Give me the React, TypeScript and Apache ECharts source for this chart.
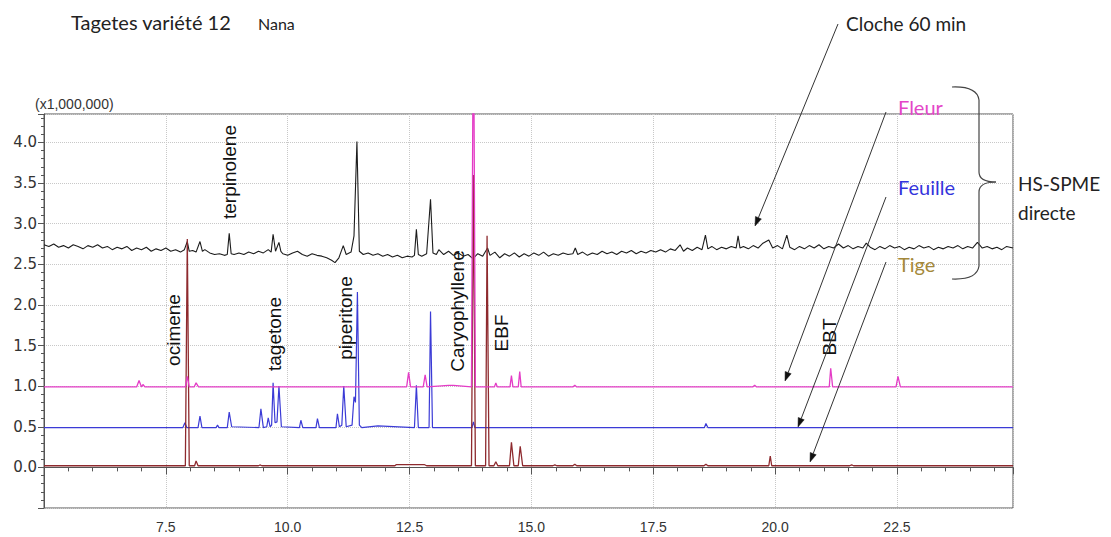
import React, { useEffect, useRef } from "react";
import * as echarts from "echarts";

// retention time (min), intensity (x1,000,000)
const clocheSeries: [number, number][] = [
  [5.0, 2.74], [5.1, 2.72], [5.2, 2.75], [5.3, 2.71], [5.4, 2.73], [5.5, 2.7], [5.6, 2.74], [5.7, 2.72], [5.8, 2.69], [5.9, 2.73],
  [6.0, 2.71], [6.1, 2.74], [6.2, 2.7], [6.3, 2.72], [6.4, 2.68], [6.5, 2.71], [6.6, 2.69], [6.7, 2.72], [6.8, 2.67], [6.9, 2.7],
  [7.0, 2.68], [7.1, 2.71], [7.2, 2.66], [7.3, 2.69], [7.4, 2.67], [7.5, 2.7], [7.6, 2.66], [7.7, 2.68], [7.8, 2.65], [7.88, 2.68],
  [7.94, 2.78], [7.98, 2.66], [8.05, 2.67], [8.12, 2.65], [8.2, 2.78], [8.25, 2.66], [8.3, 2.68], [8.4, 2.64], [8.5, 2.62], [8.6, 2.63],
  [8.7, 2.61], [8.76, 2.62], [8.8, 2.88], [8.84, 2.63], [8.9, 2.62], [9.0, 2.64], [9.1, 2.62], [9.2, 2.65], [9.3, 2.63], [9.4, 2.66],
  [9.5, 2.64], [9.6, 2.68], [9.66, 2.65], [9.7, 2.87], [9.75, 2.66], [9.82, 2.77], [9.86, 2.66], [9.9, 2.63], [10.0, 2.61], [10.1, 2.64],
  [10.2, 2.66], [10.3, 2.62], [10.4, 2.6], [10.5, 2.63], [10.6, 2.61], [10.7, 2.6], [10.8, 2.58], [10.9, 2.55], [10.97, 2.52], [11.05, 2.58],
  [11.14, 2.73], [11.2, 2.62], [11.3, 2.65], [11.36, 2.85], [11.42, 4.01], [11.47, 2.66], [11.55, 2.62], [11.65, 2.64], [11.75, 2.61], [11.85, 2.63],
  [11.95, 2.6], [12.05, 2.62], [12.15, 2.59], [12.25, 2.61], [12.35, 2.58], [12.45, 2.6], [12.55, 2.59], [12.6, 2.61], [12.64, 2.93], [12.68, 2.62],
  [12.75, 2.6], [12.85, 2.63], [12.93, 3.3], [12.98, 2.64], [13.05, 2.62], [13.1, 2.68], [13.2, 2.62], [13.3, 2.66], [13.4, 2.61], [13.5, 2.64],
  [13.6, 2.6], [13.7, 2.62], [13.8, 2.57], [13.9, 2.63], [14.0, 2.6], [14.1, 2.7], [14.15, 2.61], [14.25, 2.65], [14.35, 2.58], [14.45, 2.63],
  [14.55, 2.6], [14.65, 2.64], [14.75, 2.59], [14.85, 2.63], [14.95, 2.6], [15.05, 2.64], [15.15, 2.61], [15.25, 2.65], [15.35, 2.6], [15.45, 2.63],
  [15.55, 2.61], [15.65, 2.64], [15.75, 2.62], [15.85, 2.63], [15.9, 2.7], [15.95, 2.62], [16.05, 2.65], [16.15, 2.61], [16.25, 2.64], [16.35, 2.62],
  [16.45, 2.66], [16.55, 2.63], [16.65, 2.65], [16.75, 2.62], [16.85, 2.66], [16.95, 2.64], [17.05, 2.67], [17.15, 2.63], [17.25, 2.66], [17.35, 2.64],
  [17.45, 2.67], [17.55, 2.65], [17.65, 2.68], [17.75, 2.65], [17.85, 2.69], [17.95, 2.67], [18.05, 2.74], [18.12, 2.66], [18.2, 2.7], [18.3, 2.67],
  [18.4, 2.71], [18.5, 2.68], [18.57, 2.86], [18.62, 2.69], [18.7, 2.72], [18.8, 2.68], [18.9, 2.71], [19.0, 2.69], [19.1, 2.72], [19.2, 2.7],
  [19.24, 2.85], [19.28, 2.7], [19.35, 2.72], [19.45, 2.69], [19.55, 2.73], [19.65, 2.7], [19.75, 2.76], [19.87, 2.8], [19.95, 2.7], [20.05, 2.73],
  [20.15, 2.69], [20.24, 2.86], [20.3, 2.71], [20.4, 2.68], [20.5, 2.72], [20.6, 2.69], [20.7, 2.73], [20.8, 2.7], [20.9, 2.74], [21.0, 2.69],
  [21.1, 2.72], [21.2, 2.7], [21.3, 2.75], [21.4, 2.7], [21.5, 2.73], [21.6, 2.69], [21.7, 2.72], [21.8, 2.7], [21.87, 2.76], [21.95, 2.71],
  [22.05, 2.68], [22.15, 2.72], [22.25, 2.69], [22.35, 2.73], [22.45, 2.7], [22.55, 2.72], [22.65, 2.68], [22.75, 2.71], [22.85, 2.69], [22.95, 2.73],
  [23.05, 2.7], [23.15, 2.72], [23.25, 2.68], [23.35, 2.71], [23.45, 2.69], [23.55, 2.72], [23.65, 2.7], [23.75, 2.73], [23.85, 2.69], [23.95, 2.72],
  [24.05, 2.7], [24.15, 2.77], [24.25, 2.7], [24.35, 2.72], [24.45, 2.69], [24.55, 2.71], [24.65, 2.68], [24.75, 2.72], [24.88, 2.7],
];

const fleurSeries: [number, number][] = [
  [5.0, 0.99], [6.9, 0.99], [6.95, 1.07], [7.0, 0.99], [7.03, 1.02], [7.07, 0.99], [7.9, 0.99], [7.94, 1.12], [7.98, 0.99],
  [8.08, 0.99], [8.12, 1.04], [8.17, 0.99], [12.44, 0.99], [12.48, 1.17], [12.52, 0.99], [12.78, 0.99], [12.82, 1.14], [12.86, 0.99],
  [13.3, 1.01], [13.4, 1.01], [13.77, 0.99], [13.81, 6.0], [13.85, 0.99], [14.24, 0.99], [14.27, 1.04], [14.3, 0.99],
  [14.56, 0.99], [14.59, 1.13], [14.62, 0.99], [14.73, 0.99], [14.76, 1.18], [14.79, 0.99], [15.85, 0.99], [15.89, 1.01], [15.93, 0.99],
  [19.54, 0.99], [19.58, 1.01], [19.62, 0.99], [21.11, 0.99], [21.14, 1.22], [21.18, 0.99], [22.48, 0.99], [22.52, 1.12], [22.57, 0.99],
  [24.88, 0.99],
];

const feuilleSeries: [number, number][] = [
  [5.0, 0.49], [7.85, 0.49], [7.89, 0.55], [7.93, 0.49], [8.16, 0.49], [8.2, 0.63], [8.24, 0.49], [8.53, 0.49], [8.56, 0.52], [8.59, 0.49],
  [8.76, 0.49], [8.8, 0.68], [8.85, 0.5], [9.41, 0.49], [9.45, 0.72], [9.5, 0.49], [9.57, 0.5], [9.6, 0.61], [9.64, 0.5], [9.67, 0.52],
  [9.7, 1.04], [9.74, 0.55], [9.78, 0.56], [9.82, 1.0], [9.87, 0.5], [10.24, 0.49], [10.27, 0.58], [10.31, 0.49], [10.58, 0.49], [10.61, 0.6],
  [10.65, 0.49], [10.99, 0.49], [11.02, 0.66], [11.06, 0.5], [11.11, 0.52], [11.15, 1.0], [11.2, 0.5], [11.32, 0.52], [11.36, 0.87], [11.39, 0.8],
  [11.43, 2.16], [11.47, 0.52], [11.52, 0.49], [11.85, 0.51], [12.6, 0.49], [12.64, 1.01], [12.68, 0.49], [12.9, 0.49], [12.93, 1.92], [12.97, 0.49],
  [13.78, 0.49], [13.81, 0.56], [13.84, 0.49], [18.55, 0.49], [18.58, 0.54], [18.62, 0.49], [24.88, 0.49],
];

const tigeSeries: [number, number][] = [
  [5.0, 0.02], [7.9, 0.02], [7.94, 2.81], [7.98, 0.02], [8.09, 0.02], [8.12, 0.08], [8.16, 0.02], [9.4, 0.02], [9.43, 0.03], [9.47, 0.02],
  [12.2, 0.02], [12.23, 0.035], [12.8, 0.035], [12.85, 0.02], [13.77, 0.02], [13.81, 3.6], [13.85, 0.02], [14.06, 0.02], [14.09, 2.85], [14.13, 0.02],
  [14.23, 0.02], [14.27, 0.07], [14.31, 0.02], [14.55, 0.02], [14.59, 0.31], [14.64, 0.02], [14.73, 0.02], [14.77, 0.26], [14.82, 0.02],
  [15.44, 0.02], [15.48, 0.03], [15.52, 0.02], [15.85, 0.02], [15.89, 0.04], [15.93, 0.02], [18.54, 0.02], [18.58, 0.04], [18.62, 0.02],
  [19.87, 0.02], [19.9, 0.14], [19.93, 0.02], [21.53, 0.02], [21.57, 0.03], [21.61, 0.02], [24.88, 0.02],
];

const compoundLabels = ["terpinolene", "ocimene", "tagetone", "piperitone", "Caryophyllene", "EBF", "BBT"];
const sampleLabels = ["Fleur", "Feuille", "Tige"];

const W = 1111;
const H = 537;

export default function App() {
  const ref = useRef<HTMLDivElement>(null);

  useEffect(() => {
    if (!ref.current) return;
    const chart = echarts.init(ref.current, undefined, { renderer: "svg" });

    const arrows = [
      { x1: 838, y1: 24, x2: 755, y2: 226 },
      { x1: 886, y1: 112, x2: 785, y2: 381 },
      { x1: 886, y1: 197, x2: 798, y2: 427 },
      { x1: 886, y1: 262, x2: 810, y2: 462 },
    ];
    const arrowEls: any[] = [];
    arrows.forEach((a) => {
      const dx = a.x2 - a.x1, dy = a.y2 - a.y1;
      const L = Math.hypot(dx, dy);
      const ux = dx / L, uy = dy / L;
      const len = 9, w = 3.2;
      const bx = a.x2 - ux * len, by = a.y2 - uy * len;
      arrowEls.push({
        type: "line", z: 100,
        shape: { x1: a.x1, y1: a.y1, x2: bx, y2: by },
        style: { stroke: "#333", lineWidth: 1 },
      });
      arrowEls.push({
        type: "polygon", z: 100,
        shape: { points: [[a.x2, a.y2], [bx - uy * w, by + ux * w], [bx + uy * w, by - ux * w]] },
        style: { fill: "#111", stroke: "#111", lineWidth: 0.5 },
      });
    });

    const rotPos: [number, number][] = [
      [229, 172], [173, 330], [274, 334], [345, 318], [457, 311], [501, 333], [829, 337],
    ];
    const rotEls = compoundLabels.map((t, i) => ({
      type: "text", z: 100,
      x: rotPos[i][0], y: rotPos[i][1], rotation: Math.PI / 2,
      style: {
        text: t, fontFamily: "Liberation Sans", fontSize: 19, fill: "#111",
        align: "center", verticalAlign: "middle",
      },
    }));

    const sampleColors = ["#e446c8", "#3434dc", "#a4883a"];
    const samplePos: [number, number][] = [[898, 107], [898, 187], [898, 264]];
    const sampleEls = sampleLabels.map((t, i) => ({
      type: "text", z: 100,
      x: samplePos[i][0], y: samplePos[i][1],
      style: { text: t, fontFamily: "Lato", fontSize: 20, fill: sampleColors[i], align: "left", verticalAlign: "middle" },
    }));

    const braceStyle = { stroke: "#444", lineWidth: 1.2, fill: null };
    const braceEls = [
      { type: "bezierCurve", z: 100, shape: { x1: 952, y1: 87, x2: 979, y2: 100, cpx1: 977, cpy1: 86 }, style: braceStyle },
      { type: "line", z: 100, shape: { x1: 979, y1: 100, x2: 979, y2: 172 }, style: braceStyle },
      { type: "bezierCurve", z: 100, shape: { x1: 979, y1: 172, x2: 996, y2: 182, cpx1: 979, cpy1: 182 }, style: braceStyle },
      { type: "bezierCurve", z: 100, shape: { x1: 996, y1: 182, x2: 979, y2: 192, cpx1: 979, cpy1: 182 }, style: braceStyle },
      { type: "line", z: 100, shape: { x1: 979, y1: 192, x2: 979, y2: 266 }, style: braceStyle },
      { type: "bezierCurve", z: 100, shape: { x1: 979, y1: 266, x2: 952, y2: 279, cpx1: 977, cpy1: 280 }, style: braceStyle },
    ];

    const textEls = [
      { type: "text", z: 100, x: 71, y: 22, style: { text: "Tagetes variété 12", fontFamily: "Lato", fontSize: 20, fill: "#222", align: "left", verticalAlign: "middle" } },
      { type: "text", z: 100, x: 258, y: 23, style: { text: "Nana", fontFamily: "Lato", fontSize: 16, fill: "#222", align: "left", verticalAlign: "middle" } },
      { type: "text", z: 100, x: 846, y: 23, style: { text: "Cloche 60 min", fontFamily: "Lato", fontSize: 19, fill: "#222", align: "left", verticalAlign: "middle" } },
      { type: "text", z: 100, x: 1018, y: 183, style: { text: "HS-SPME", fontFamily: "Lato", fontSize: 19, fill: "#222", align: "left", verticalAlign: "middle" } },
      { type: "text", z: 100, x: 1018, y: 212, style: { text: "directe", fontFamily: "Lato", fontSize: 19, fill: "#222", align: "left", verticalAlign: "middle" } },
      { type: "text", z: 100, x: 35, y: 104, style: { text: "(x1,000,000)", fontFamily: "Liberation Sans", fontSize: 14, fill: "#333", align: "left", verticalAlign: "middle" } },
    ];

    const lineSeries = (name: string, data: [number, number][], color: string, width: number) => ({
      type: "line", name, data, showSymbol: false, symbol: "none", clip: true,
      lineStyle: { color, width }, itemStyle: { color }, silent: true,
    });

    chart.setOption({
      animation: false,
      backgroundColor: "#ffffff",
      grid: {
        left: 44, right: W - 1013, top: 114, bottom: H - 508,
        show: true, borderColor: "#555", borderWidth: 1, backgroundColor: "transparent",
        containLabel: false, outerBoundsMode: "none",
      },
      xAxis: {
        type: "value", min: 5, max: 24.88, interval: 2.5,
        axisLine: { show: true, lineStyle: { color: "#555", width: 1 } },
        axisTick: { show: true, length: 7, lineStyle: { color: "#555" } },
        minorTick: { show: true, splitNumber: 5, length: 4, lineStyle: { color: "#555" } },
        splitLine: { show: true, lineStyle: { type: "dotted", color: "#c8c8c8" } },
        axisLabel: {
          fontFamily: "Liberation Sans", fontSize: 14, color: "#333", margin: 12,
          showMinLabel: false, showMaxLabel: false,
          formatter: (v: number) => (v >= 7.4 && v <= 22.6 ? v.toFixed(1) : ""),
        },
      },
      yAxis: {
        type: "value", min: -0.5, max: 4.35, interval: 0.5,
        axisLine: { show: true, lineStyle: { color: "#555", width: 1 } },
        axisTick: { show: true, length: 6, lineStyle: { color: "#555" } },
        minorTick: { show: true, splitNumber: 5, length: 3, lineStyle: { color: "#555" } },
        splitLine: { show: true, lineStyle: { type: "dotted", color: "#c8c8c8" } },
        axisLabel: {
          fontFamily: "DejaVu Sans", fontSize: 15, color: "#333", margin: 7,
          showMinLabel: false,
          formatter: (v: number) =>
            v > -0.01 && v < 4.01 && Math.abs(v * 2 - Math.round(v * 2)) < 1e-6 ? v.toFixed(1) : "",
        },
      },
      series: [
        lineSeries("Cloche 60 min", clocheSeries, "#1c1c1c", 1.1),
        lineSeries("Feuille", feuilleSeries, "#3b3bd6", 1.2),
        lineSeries("Tige", tigeSeries, "#8e2a2e", 1.3),
        lineSeries("Fleur", fleurSeries, "#e43cc6", 1.3),
      ],
      graphic: [...textEls, ...sampleEls, ...rotEls, ...arrowEls, ...braceEls],
    });

    return () => chart.dispose();
  }, []);

  return (
    <div
      ref={ref}
      style={{ position: "fixed", left: 0, top: 0, width: W, height: H, background: "#fff" }}
    />
  );
}
